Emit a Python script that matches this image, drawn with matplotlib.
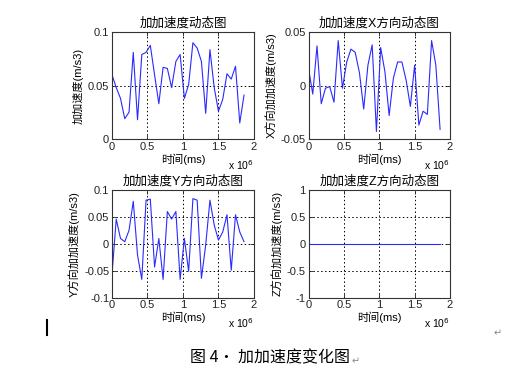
import matplotlib
matplotlib.use('Agg')
import matplotlib.pyplot as plt
from matplotlib.ticker import FuncFormatter
from matplotlib.lines import Line2D

plt.rcParams['font.family'] = ['Liberation Sans', 'Noto Sans CJK SC']

# time in ms (plotted with a x10^6 multiplier, matlab style)
t_ms = [0, 60000, 120000, 180000, 240000, 300000, 360000, 420000,
        480000, 540000, 600000, 660000, 720000, 780000, 840000, 900000,
        960000, 1020000, 1080000, 1140000, 1200000, 1260000, 1320000, 1380000,
        1440000, 1500000, 1560000, 1620000, 1680000, 1740000, 1800000, 1860000]

jerk = [0.060, 0.048, 0.038, 0.019, 0.025, 0.081, 0.018, 0.079,
        0.081, 0.0875, 0.060, 0.033, 0.067, 0.066, 0.048, 0.0725,
        0.079, 0.038, 0.051, 0.090, 0.085, 0.0725, 0.024, 0.0835,
        0.048, 0.026, 0.037, 0.061, 0.056, 0.068, 0.015, 0.041]

jerk_x = [0.016, -0.008, 0.037, -0.017, -0.0025, -0.001, -0.0156, 0.042,
          -0.0025, 0.022, 0.034, 0.031, 0.012, -0.022, 0.019, 0.038,
          -0.043, 0.0355, 0.013, -0.028, 0.007, 0.022, 0.022, 0.005,
          -0.0196, 0.019, -0.037, -0.024, -0.027, 0.042, 0.019, -0.041]

jerk_y = [-0.057, 0.046, 0.010, 0.004, 0.025, 0.079, -0.021, -0.066,
          0.081, 0.083, -0.043, 0.010, -0.066, 0.060, 0.046, 0.060,
          -0.066, 0.010, -0.051, 0.084, 0.081, -0.064, -0.002, 0.081,
          0.035, 0.007, 0.022, 0.054, -0.049, 0.054, 0.022, 0.004]

jerk_z = [0, 0, 0, 0, 0, 0, 0, 0, 0, 0, 0, 0, 0, 0, 0, 0,
          0, 0, 0, 0, 0, 0, 0, 0, 0, 0, 0, 0, 0, 0, 0, 0]

titles = ['加加速度动态图', '加加速度X方向动态图', '加加速度Y方向动态图', '加加速度Z方向动态图']
ylabels = ['加加速度(m/s3)', 'X方向加加速度(m/s3)', 'Y方向加加速度(m/s3)', 'Z方向加加速度(m/s3)']
yranges = [(0, 0.1), (-0.05, 0.05), (-0.1, 0.1), (-1, 1)]
yticks = [[0, 0.05, 0.1], [-0.05, 0, 0.05], [-0.1, -0.05, 0, 0.05, 0.1], [-1, -0.5, 0, 0.5, 1]]
xticks = [0, 500000, 1000000, 1500000, 2000000]
series = [jerk, jerk_x, jerk_y, jerk_z]

fig = plt.figure(figsize=(5.06, 3.79), dpi=100)
fig.patch.set_facecolor('white')

# axes boxes in figure fractions [left, bottom, width, height]
boxes = [[0.2213, 0.6332, 0.2806, 0.2823],
         [0.6097, 0.6332, 0.2796, 0.2823],
         [0.2213, 0.2145, 0.2806, 0.2842],
         [0.6097, 0.2145, 0.2796, 0.2842]]

fmt_y = FuncFormatter(lambda v, p: '%g' % round(v, 4))
fmt_x = FuncFormatter(lambda v, p: '%g' % (v / 1e6))

for i in range(4):
    ax = fig.add_axes(boxes[i])
    ax.plot(t_ms, series[i], color='#2a2aff', lw=0.8)
    ax.set_xlim(0, 2000000)
    ax.set_ylim(yranges[i])
    ax.set_xticks(xticks)
    ax.set_yticks(yticks[i])
    ax.xaxis.set_major_formatter(fmt_x)
    ax.yaxis.set_major_formatter(fmt_y)
    ax.grid(True, color='black', linestyle=(0, (1.5, 2.5)), lw=0.7)
    ax.tick_params(direction='in', length=3, width=0.6, labelsize=8, pad=2,
                   top=True, right=True, colors='#222222')
    for s in ax.spines.values():
        s.set_color('#333333')
        s.set_linewidth(0.8)
    ax.set_title(titles[i], fontsize=9, pad=4)
    ax.set_ylabel(ylabels[i], fontsize=8, labelpad=3)
    ax.set_xlabel('时间(ms)', fontsize=8, labelpad=1)
    ax.text(1.0, -0.24, 'x 10$^6$', transform=ax.transAxes, fontsize=7.5,
            ha='right', va='center')

# caption like in the word document
cap = fig.text(0.533, 0.057, '图 4· 加加速度变化图', fontsize=11.5, ha='center', va='center',
               family=['Noto Sans CJK SC', 'DejaVu Sans'])
ax.annotate('↵', xy=(1, 0.3), xycoords=cap, xytext=(1, 0), textcoords='offset points',
            fontsize=7, color='#888888', ha='left', va='center',
            family=['DejaVu Sans'], annotation_clip=False)
fig.text(0.975, 0.12, '↵', fontsize=7, color='#888888', ha='left', va='center',
         family=['DejaVu Sans'])
fig.add_artist(Line2D([0.093, 0.093], [0.115, 0.155], transform=fig.transFigure,
                      color='black', lw=1.5))

fig.savefig('out.png', dpi=100, facecolor='white')
